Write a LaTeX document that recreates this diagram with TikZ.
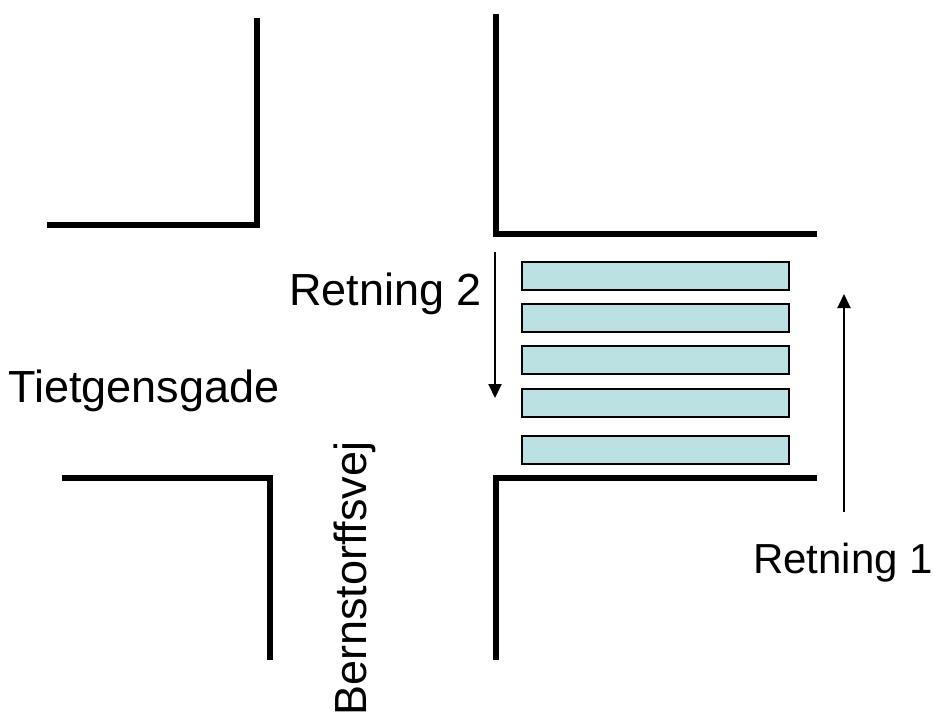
\documentclass[tikz,border=0pt]{standalone}
\usepackage{fontspec}
\setmainfont{Liberation Sans}
\usetikzlibrary{arrows.meta}
\definecolor{stripe}{HTML}{BAE0E2}
\begin{document}
\begin{tikzpicture}[x=1pt,y=-1pt,
  kerb/.style={line width=5.5pt,line join=miter},
  zebra/.style={draw=black,line width=1.2pt,fill=stripe},
  dirarrow/.style={line width=2pt,-{Triangle[length=14pt,width=13pt]}},
  lbl/.style={inner sep=0pt,anchor=base west,font=\fontsize{45}{52}\selectfont}]
\useasboundingbox (0,0) rectangle (939,716);
% kerbs
\draw[kerb] (47,225) -- (257,225) -- (257,18);
\draw[kerb] (496,14) -- (496,234) -- (817,234);
\draw[kerb] (62,478) -- (270,478) -- (270,660);
\draw[kerb] (817,478) -- (496,478) -- (496,660);
% zebra crossing
\draw[zebra] (522,262) rectangle (789,290);
\draw[zebra] (522,304) rectangle (789,332);
\draw[zebra] (522,346) rectangle (789,374);
\draw[zebra] (522,389) rectangle (789,417);
\draw[zebra] (522,436) rectangle (789,464);
% directions
\coordinate (r2s) at (495,252);
\coordinate (r2e) at (495,398);
\coordinate (r1s) at (844,512);
\coordinate (r1e) at (844,294);
\draw[dirarrow] (r2s) -- (r2e);
\draw[dirarrow] (r1s) -- (r1e);
% labels
\node[lbl] (ret2) at (289,305) {Retning 2};
\node[lbl,font=\fontsize{42}{50}\selectfont] (ret1) at (753,573) {Retning 1};
\node[lbl] (tiet) at (8,402) {Tietgensgade};
\node[lbl,rotate=90] (bern) at (366,716) {Bernstorffsvej};
\end{tikzpicture}
\end{document}
